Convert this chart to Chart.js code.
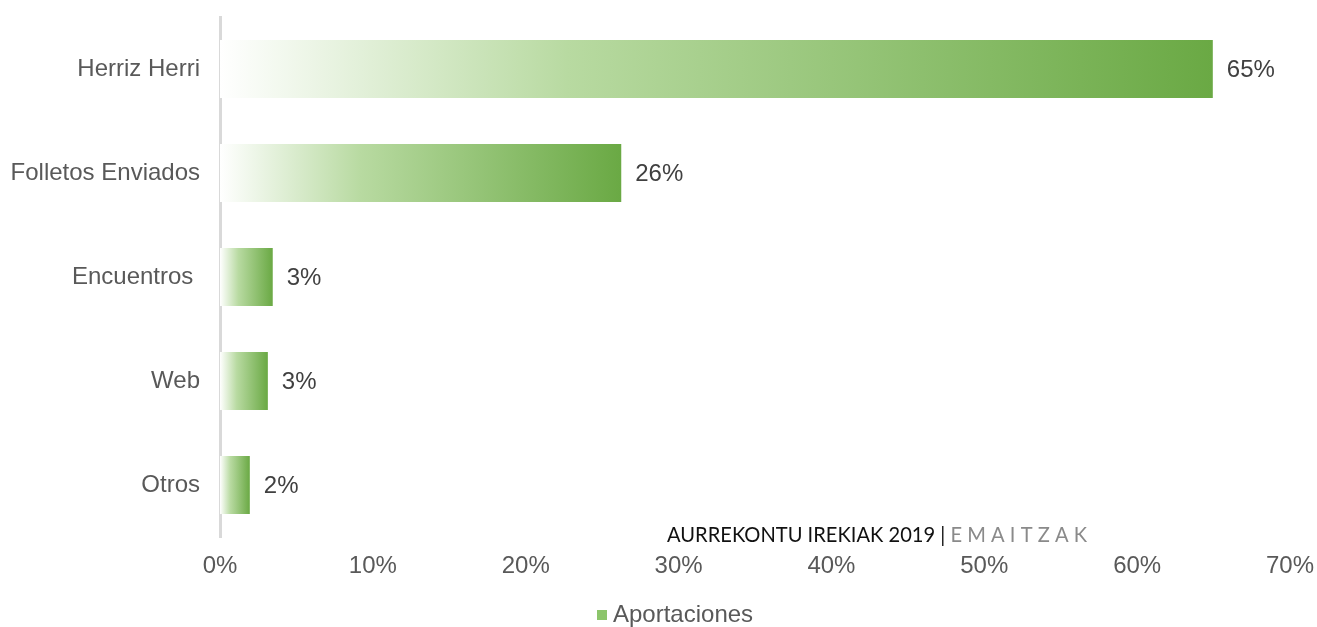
<!DOCTYPE html>
<html>
<head>
<meta charset="utf-8">
<script src="https://cdn.jsdelivr.net/npm/chart.js@4.4.1/dist/chart.umd.min.js"></script>
<style>
html,body{margin:0;padding:0;background:#fff;}
#wrap{width:1317px;height:627px;position:relative;}
</style>
</head>
<body>
<div id="wrap"><canvas id="c" width="1317" height="627"></canvas></div>
<script>
const categories = ["Herriz Herri", "Folletos Enviados", "Encuentros ", "Web", "Otros"];
const values = [64.95, 26.25, 3.45, 3.13, 1.95];
const valueLabels = ["65%", "26%", "3%", "3%", "2%"];
const seriesName = "Aportaciones";
const xTicks = [0, 10, 20, 30, 40, 50, 60, 70];
const watermarkMain = "AURREKONTU IREKIAK 2019 | ";
const watermarkSub = "E M A I T Z A K";

const GREEN = '#6aa944';
const FONT = '"Liberation Sans", Arial, sans-serif';

function barGradient(ctx) {
  const chart = ctx.chart;
  const area = chart.chartArea;
  if (!area || ctx.type !== 'data') return GREEN;
  const xs = chart.scales.x;
  const x0 = xs.getPixelForValue(0);
  const x1 = xs.getPixelForValue(ctx.raw);
  const g = chart.ctx.createLinearGradient(x0, 0, x1, 0);
  g.addColorStop(0, 'rgba(255,255,255,1)');
  g.addColorStop(0.35, '#b8daa1');
  g.addColorStop(1, GREEN);
  return g;
}

const valueLabelPlugin = {
  id: 'valueLabels',
  afterDatasetsDraw(chart) {
    const c = chart.ctx;
    const meta = chart.getDatasetMeta(0);
    c.save();
    c.font = '24px ' + FONT;
    c.fillStyle = '#404040';
    c.textAlign = 'left';
    c.textBaseline = 'middle';
    meta.data.forEach((bar, i) => {
      c.fillText(valueLabels[i], bar.x + 14, bar.y + 1);
    });
    c.restore();
  }
};

const legendPlugin = {
  id: 'customLegend',
  afterDraw(chart) {
    const c = chart.ctx;
    c.save();
    c.fillStyle = '#8cc56b';
    c.fillRect(597, 610, 10, 10);
    c.font = '24px ' + FONT;
    c.fillStyle = '#595959';
    c.textAlign = 'left';
    c.textBaseline = 'alphabetic';
    c.fillText(seriesName, 613, 622);
    c.restore();
  }
};

const watermarkPlugin = {
  id: 'watermark',
  afterDraw(chart) {
    const c = chart.ctx;
    c.save();
    c.textBaseline = 'alphabetic';
    c.textAlign = 'left';
    c.font = '22px Lato, "Open Sans", sans-serif';
    const w1 = c.measureText(watermarkMain).width;
    const w2 = c.measureText(watermarkSub).width;
    const targetW = 420;
    const sx = targetW / (w1 + w2);
    c.translate(667, 542);
    c.scale(sx, 1);
    c.fillStyle = '#111111';
    c.fillText(watermarkMain, 0, 0);
    c.fillStyle = '#8a8a8a';
    c.fillText(watermarkSub, w1, 0);
    c.restore();
  }
};

new Chart(document.getElementById('c'), {
  type: 'bar',
  data: {
    labels: categories,
    datasets: [{
      label: seriesName,
      data: values,
      backgroundColor: barGradient,
      borderWidth: 0,
      categoryPercentage: 1,
      barPercentage: 0.56
    }]
  },
  options: {
    indexAxis: 'y',
    responsive: false,
    animation: false,
    devicePixelRatio: 1,
    layout: { padding: { top: 17, right: 27, left: 0, bottom: 0 } },
    plugins: {
      legend: { display: false },
      tooltip: { enabled: false }
    },
    scales: {
      x: {
        min: 0,
        max: 70,
        afterBuildTicks(scale) { scale.ticks = xTicks.map(v => ({ value: v })); },
        grid: { display: false, drawTicks: false },
        border: { display: false },
        ticks: {
          color: '#595959',
          font: { family: FONT, size: 24 },
          padding: 15,
          maxRotation: 0,
          callback: v => v + '%'
        },
        afterFit(scale) {
          scale.height = 90;
          scale.paddingLeft = 0;
          scale.paddingRight = 0;
        }
      },
      y: {
        grid: { display: false, drawTicks: false },
        border: { display: true, color: '#d9d9d9', width: 3 },
        ticks: {
          color: '#595959',
          font: { family: FONT, size: 24 },
          padding: 20
        },
        afterFit(scale) {
          scale.width = 220;
          scale.paddingTop = 0;
          scale.paddingBottom = 0;
        }
      }
    }
  },
  plugins: [valueLabelPlugin, legendPlugin, watermarkPlugin]
});
</script>
</body>
</html>
